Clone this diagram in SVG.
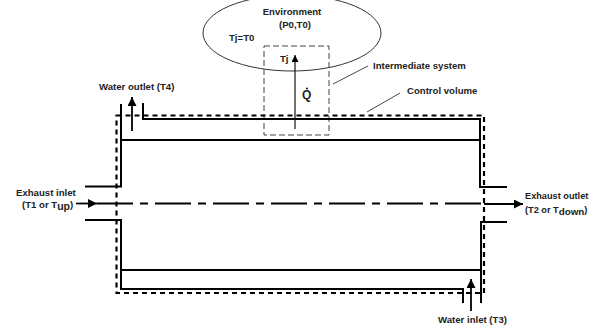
<svg xmlns="http://www.w3.org/2000/svg" width="589" height="329" viewBox="0 0 589 329">
<style>
text{font-family:"Liberation Sans",Arial,sans-serif;font-weight:bold;font-size:9.6px;fill:#222}
.s{fill:none;stroke:#000;stroke-width:2}
.cv{fill:none;stroke:#000;stroke-width:2.2;stroke-dasharray:5 4}
.t{fill:none;stroke:#111;stroke-width:1.2}
.c{fill:none;stroke:#000;stroke-width:1.8}
.l{fill:none;stroke:#333;stroke-width:.9}
.n{font-size:9.2px}
.sub{font-size:9.8px}
</style>
<defs>
<marker id="a" markerUnits="userSpaceOnUse" markerWidth="10" markerHeight="10" refX="9" refY="4.5" orient="auto"><path d="M0 0L9 4.5L0 9Z" fill="#000"/></marker>
<marker id="b" markerUnits="userSpaceOnUse" markerWidth="8" markerHeight="8" refX="7" refY="3.5" orient="auto"><path d="M0 0L7 3.5L0 7Z" fill="#000"/></marker>
</defs>
<g id="environment"><ellipse cx="292" cy="33" rx="89" ry="38" fill="none" stroke="#333" stroke-width="1"/>
<text x="292" y="15" text-anchor="middle">Environment</text><text x="295" y="28" text-anchor="middle">(P0,T0)</text><text x="229" y="41">Tj=T0</text></g>
<g id="intermediate-system"><rect x="264" y="46" width="65" height="89" fill="none" stroke="#444" stroke-width="1" stroke-dasharray="6 3"/>
<text x="280" y="62">Tj</text><text x="302" y="99" style="font-size:12px">Q</text><circle cx="307" cy="88.500" r="1.100" fill="#222"/>
<text x="373" y="69">Intermediate system</text></g>
<g id="control-volume"><rect x="116.500" y="115.500" width="367.500" height="177.500" class="cv"/><text x="407" y="94">Control volume</text></g>
<g id="heat-exchanger"><path class="s" d="M85 186.500H121V104M143 103V119H480V187H507M121 140H480M85 220H121V289H463V303M121 270H480M507 222H481V303"/></g>
<g id="connectors">
<path class="c" d="M76 203.500H97" marker-end="url(#a)"/>
<path class="c" d="M97 203.500H484" stroke-dasharray="36 7 8 7"/>
<path class="c" d="M484 204H523" marker-end="url(#a)"/>
<path class="c" d="M132 131V97" marker-end="url(#a)"/>
<path class="c" d="M471 311V279" marker-end="url(#a)"/>
<path class="t" d="M295 129V55" marker-end="url(#b)"/>
<path class="l" d="M333 84L368 66M367 112L400 93"/>
</g>
<g id="labels">
<text x="99" y="90">Water outlet (T4)</text>
<text x="16" y="196">Exhaust inlet</text>
<text x="22" y="208">(T1 or T<tspan dy="2" style="font-size:10.500px">up</tspan><tspan dy="-2">)</tspan></text>
<text x="525" y="199" class="n">Exhaust outlet</text>
<text x="525" y="213" class="n">(T2 or T<tspan dy="2" class="sub">down</tspan><tspan dy="-2">)</tspan></text>
<text x="438" y="323">Water inlet (T3)</text>
</g>
</svg>
